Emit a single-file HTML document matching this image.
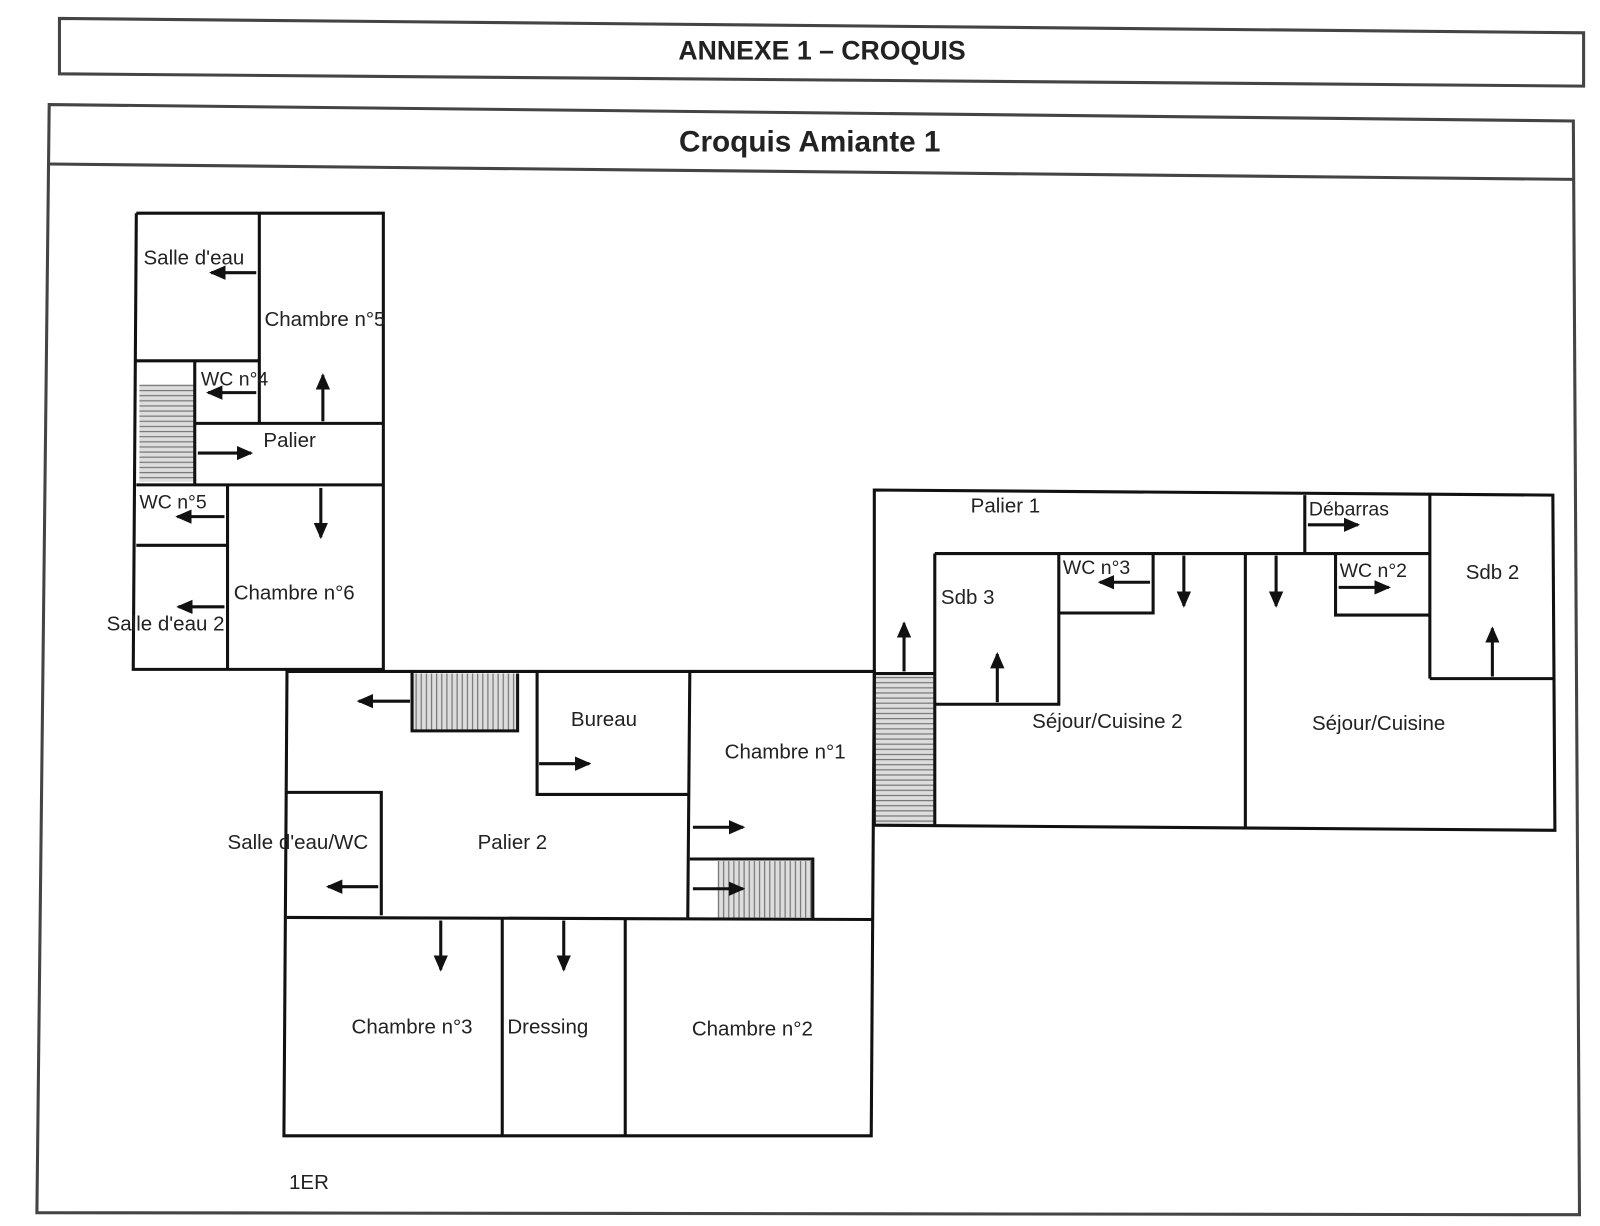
<!DOCTYPE html>
<html><head><meta charset="utf-8"><style>
html,body{margin:0;padding:0;background:#fff;width:1600px;height:1226px;overflow:hidden}
svg{display:block}
text{font-family:"Liberation Sans",sans-serif;fill:#222}
</style></head><body>
<svg width="1600" height="1226" viewBox="0 0 1561 1196" preserveAspectRatio="none">
<defs>
<marker id="a" markerWidth="16" markerHeight="14" refX="14" refY="7" orient="auto" markerUnits="userSpaceOnUse"><path d="M0,0 L16,7 L0,14 z" fill="#111"/></marker>
<pattern id="h" width="6" height="5" patternUnits="userSpaceOnUse"><rect width="6" height="5" fill="#ddd"/><line x1="0" y1="1" x2="6" y2="1" stroke="#777" stroke-width="1.2"/></pattern>
<pattern id="v" width="5" height="6" patternUnits="userSpaceOnUse"><rect width="5" height="6" fill="#ddd"/><line x1="1" y1="0" x2="1" y2="6" stroke="#777" stroke-width="1.2"/></pattern>
</defs>
<g fill="none" stroke="#444" stroke-width="3">
<path d="M58,18 L1545,32 L1545,84 L58,72 Z"/>
<path d="M48,102 L1535,118 L1541,1185 L36,1183 Z"/>
<line x1="48" y1="160" x2="1535" y2="175"/>
</g>
<text x="802" y="58" font-size="26" font-weight="bold" text-anchor="middle">ANNEXE 1 – CROQUIS</text>
<text x="790" y="148" font-size="29" font-weight="bold" text-anchor="middle">Croquis Amiante 1</text>

<rect x="136" y="375" width="54" height="95" fill="url(#h)"/>
<rect x="402" y="657" width="103" height="56" fill="url(#v)"/>
<rect x="700" y="840" width="92" height="55" fill="url(#v)"/>
<rect x="854" y="657" width="57" height="148" fill="url(#h)"/>

<g fill="none" stroke="#111" stroke-width="3">
<path d="M133,208 L374,208 L374,653 L130,653 L133,208"/>
<line x1="253" y1="208" x2="253" y2="413"/>
<line x1="133" y1="352" x2="253" y2="352"/>
<line x1="190" y1="352" x2="190" y2="473"/>
<line x1="190" y1="413" x2="374" y2="413"/>
<line x1="133" y1="473" x2="374" y2="473"/>
<line x1="222" y1="473" x2="222" y2="653"/>
<line x1="133" y1="532" x2="222" y2="532"/>
<path d="M280,655 L853,655 L850,1108 L277,1108 Z"/>
<path d="M505,657 L505,713 L402,713 L402,655"/>
<path d="M524,655 L524,775 L673,775"/>
<line x1="673" y1="655" x2="671" y2="895"/>
<path d="M280,773 L372,773 L372,893"/>
<line x1="280" y1="895" x2="851" y2="897"/>
<line x1="490" y1="895" x2="490" y2="1108"/>
<line x1="610" y1="897" x2="610" y2="1108"/>
<path d="M673,838 L793,838 L793,897"/>
<path d="M853,478 L1515,483 L1517,810 L853,805 Z"/>
<line x1="912" y1="540" x2="1395" y2="540"/>
<line x1="912" y1="540" x2="912" y2="805"/>
<line x1="853" y1="657" x2="912" y2="657"/>
<path d="M1033,540 L1033,687 L912,687"/>
<path d="M1033,598 L1125,598 L1125,540"/>
<line x1="1215" y1="540" x2="1215" y2="808"/>
<path d="M1273,483 L1273,540"/>
<path d="M1303,540 L1303,600 L1395,600"/>
<line x1="1395" y1="483" x2="1395" y2="662"/>
<line x1="1395" y1="662" x2="1515" y2="662"/>
</g>

<g stroke="#111" stroke-width="3" marker-end="url(#a)">
<line x1="250" y1="266" x2="206" y2="266"/>
<line x1="250" y1="383" x2="203" y2="383"/>
<line x1="315" y1="411" x2="315" y2="366"/>
<line x1="193" y1="442" x2="245" y2="442"/>
<line x1="313" y1="476" x2="313" y2="524"/>
<line x1="219" y1="504" x2="173" y2="504"/>
<line x1="219" y1="592" x2="174" y2="592"/>
<line x1="400" y1="684" x2="350" y2="684"/>
<line x1="526" y1="745" x2="575" y2="745"/>
<line x1="676" y1="807" x2="725" y2="807"/>
<line x1="676" y1="867" x2="725" y2="867"/>
<line x1="369" y1="865" x2="320" y2="865"/>
<line x1="430" y1="898" x2="430" y2="946"/>
<line x1="550" y1="898" x2="550" y2="946"/>
<line x1="882" y1="655" x2="882" y2="608"/>
<line x1="973" y1="685" x2="973" y2="638"/>
<line x1="1122" y1="568" x2="1073" y2="568"/>
<line x1="1155" y1="542" x2="1155" y2="591"/>
<line x1="1245" y1="542" x2="1245" y2="591"/>
<line x1="1276" y1="512" x2="1325" y2="512"/>
<line x1="1306" y1="573" x2="1355" y2="573"/>
<line x1="1456" y1="660" x2="1456" y2="613"/>
</g>

<g font-size="20">
<text x="140" y="258">Salle d'eau</text>
<text x="258" y="318">Chambre n°5</text>
<text x="196" y="376" font-size="19">WC n°4</text>
<text x="257" y="436">Palier</text>
<text x="136" y="496" font-size="19">WC n°5</text>
<text x="228" y="585">Chambre n°6</text>
<text x="104" y="615">Salle d'eau 2</text>
<text x="557" y="708">Bureau</text>
<text x="707" y="740">Chambre n°1</text>
<text x="222" y="828">Salle d'eau/WC</text>
<text x="466" y="828">Palier 2</text>
<text x="343" y="1008">Chambre n°3</text>
<text x="495" y="1008">Dressing</text>
<text x="675" y="1010">Chambre n°2</text>
<text x="282" y="1160">1ER</text>
<text x="947" y="500">Palier 1</text>
<text x="1277" y="503" font-size="19">Débarras</text>
<text x="918" y="589">Sdb 3</text>
<text x="1037" y="560" font-size="19">WC n°3</text>
<text x="1307" y="563" font-size="19">WC n°2</text>
<text x="1430" y="565">Sdb 2</text>
<text x="1007" y="710">Séjour/Cuisine 2</text>
<text x="1280" y="712">Séjour/Cuisine</text>
</g>
</svg>
</body></html>
